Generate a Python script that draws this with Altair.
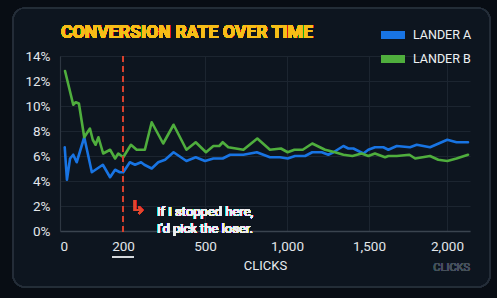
import altair as alt
import pandas as pd

# ---- data (clicks, conversion %) ----
clicks_a = [15, 22, 32, 42, 53, 77, 101, 136, 159, 175, 190, 201, 225, 244, 266, 278, 305, 329, 354,
            385, 432, 466, 500, 551, 608, 653, 734, 816, 896, 957, 1004, 1049, 1110, 1154, 1212,
            1252, 1283, 1344, 1374, 1405, 1466, 1496, 1538, 1592, 1624, 1678, 1763, 1806, 1891,
            2002, 2062, 2137]
rate_a = [6.7, 4.1, 5.8, 6.1, 5.5, 7.5, 4.7, 5.3, 4.3, 4.9, 4.7, 4.7, 5.5, 5.3, 5.5, 5.3, 5.0, 5.5, 5.7,
          6.3, 5.6, 5.9, 5.6, 5.8, 5.8, 6.1, 6.1, 6.3, 5.9, 5.9, 5.8, 6.0, 6.0, 6.3, 6.3,
          6.1, 6.3, 6.8, 6.6, 6.6, 6.2, 6.5, 6.7, 6.7, 6.5, 6.8, 6.7, 6.9, 6.7,
          7.3, 7.1, 7.1]

clicks_b = [16, 42, 50, 60, 77, 95, 104, 113, 122, 137, 159, 175, 185, 201, 229, 250, 280, 305, 347,
            385, 432, 466, 506, 551, 587, 608, 642, 734, 819, 896, 963, 1004, 1045, 1096, 1154,
            1232, 1293, 1344, 1399, 1455, 1496, 1538, 1603, 1624, 1678, 1759, 1796, 1891, 1944,
            2002, 2062, 2137]
rate_b = [12.8, 10.1, 10.3, 10.2, 7.5, 8.2, 7.3, 6.9, 7.5, 6.2, 6.5, 5.8, 6.2, 5.9, 6.9, 6.5, 6.5, 8.7, 7.0,
          8.5, 6.5, 7.1, 6.3, 6.8, 6.8, 7.1, 6.7, 6.5, 7.4, 6.5, 6.6, 6.3, 6.5, 6.5, 7.0,
          6.5, 6.3, 6.1, 6.0, 6.2, 6.0, 6.2, 5.9, 6.0, 6.0, 6.1, 5.8, 6.0, 5.7,
          5.6, 5.8, 6.1]

series = ["LANDER A", "LANDER B"]
colors = ["#1874e3", "#4fae3d"]
x_ticks = [0, 200, 500, 1000, 1500, 2000]
y_ticks = [0, 2, 4, 6, 8, 10, 12, 14]
stop_at = 200
note_lines = ["If I stopped here,", "I'd pick the loser."]

df = pd.DataFrame({
    "clicks": clicks_a + clicks_b,
    "rate": rate_a + rate_b,
    "series": [series[0]] * len(clicks_a) + [series[1]] * len(clicks_b),
    "order": list(range(len(clicks_a))) + list(range(len(clicks_b))),
})

W, H = 410, 175
FONT = "Roboto"

xscale = alt.Scale(domain=[0, 200, 500, 1000, 1500, 2000, 2150],
                   range=[0, 63, 145, 227, 309, 387, 410], nice=False, zero=False)
yscale = alt.Scale(domain=[0, 14], nice=False)

xaxis = alt.Axis(values=x_ticks, labelExpr="format(datum.value, ',')", title="CLICKS",
                 grid=True, labelOverlap=False,
                 gridColor="#1c2530", gridWidth=1, domainColor="#3a444f", domainWidth=1.5,
                 ticks=False, labelColor="#e2e6ea", labelFontSize=13.5, labelFont=FONT,
                 labelPadding=8, titleColor="#e8ecf0", titleFont=FONT, titleFontSize=13,
                 titleFontWeight="normal", titlePadding=7)
yaxis = alt.Axis(values=y_ticks, labelExpr="datum.value + '%'", title=None, grid=True,
                 labelOverlap=False,
                 gridColor="#1c2530", gridWidth=1.2, domainColor="#2e3742", domainWidth=1.2,
                 ticks=False, labelColor="#e2e6ea", labelFontSize=13.5, labelFont=FONT,
                 labelPadding=10)

base = alt.Chart(df)

# dark surround outside the rounded panel, and the panel border (stroke only)
surround = alt.Chart(df).mark_rect(
    fillOpacity=0, stroke="#080d14", strokeWidth=30, cornerRadius=27
).encode(x=alt.value(-62), x2=alt.value(445), y=alt.value(-63), y2=alt.value(246))
panel = alt.Chart(df).mark_rect(
    fillOpacity=0, stroke="#252e39", strokeWidth=1.2, cornerRadius=12
).encode(x=alt.value(-47), x2=alt.value(430), y=alt.value(-48), y2=alt.value(231))

lines = base.mark_line(strokeWidth=2.6, strokeJoin="round", strokeCap="round").encode(
    x=alt.X("clicks:Q", scale=xscale, axis=xaxis),
    y=alt.Y("rate:Q", scale=yscale, axis=yaxis),
    color=alt.Color("series:N", scale=alt.Scale(domain=series, range=colors),
                    legend=alt.Legend(orient="none", legendX=321, legendY=-33, title=None,
                                      symbolType="M-1.5,0H1.5", symbolSize=256, symbolStrokeWidth=8,
                                      labelColor="#eef1f4", labelFont=FONT, labelFontSize=12.5,
                                      labelOffset=8, rowPadding=0, clipHeight=24, padding=0)),
    order="order:Q",
)

stop_rule = alt.Chart(df).mark_rule(color="#d8402c", strokeWidth=2, strokeDash=[6, 4]).encode(
    x=alt.datum(stop_at, scale=xscale, axis=xaxis), y=alt.value(0), y2=alt.value(178))

underline = alt.Chart(df).mark_rule(color="#d5d9dd", strokeWidth=1.5, xOffset=-11, x2Offset=11).encode(
    x=alt.datum(stop_at, scale=xscale, axis=xaxis), x2=alt.datum(stop_at), y=alt.value(201))

arrow = alt.Chart(df).mark_text(text="↳", color="#e2472f", fontSize=19, font="DejaVu Sans",
                                align="center", baseline="middle", dx=15).encode(
    x=alt.datum(stop_at, scale=xscale, axis=xaxis), y=alt.datum(1.85, scale=yscale, axis=yaxis))

note = alt.Chart(df).mark_text(text=note_lines, color="#eceff2", fontSize=13, font=FONT,
                               align="left", baseline="middle", lineHeight=17, dx=34).encode(
    x=alt.datum(stop_at, scale=xscale, axis=xaxis), y=alt.datum(1.52, scale=yscale, axis=yaxis))

title = alt.Chart(df).mark_text(text="CONVERSION RATE OVER TIME", color="#f7be16", fontSize=17.7,
                                fontWeight="bold", font=FONT, align="left", baseline="middle").encode(
    x=alt.value(1), y=alt.value(-23))

faded = alt.Chart(df).mark_text(text="CLICKS", color="#46515c", fontSize=11, font=FONT,
                                align="right", baseline="middle").encode(
    x=alt.value(410), y=alt.value(212))

chart = alt.layer(surround, panel, lines, stop_rule, underline, arrow, note, title, faded).properties(
    width=W, height=H,
    background="#0d151f",
    padding={"left": 60, "top": 56, "right": 27, "bottom": 67},
    autosize=alt.AutoSizeParams(type="none"),
).configure_view(stroke=None)

chart.save("out.html", embed_options={"renderer": "svg", "actions": False})
